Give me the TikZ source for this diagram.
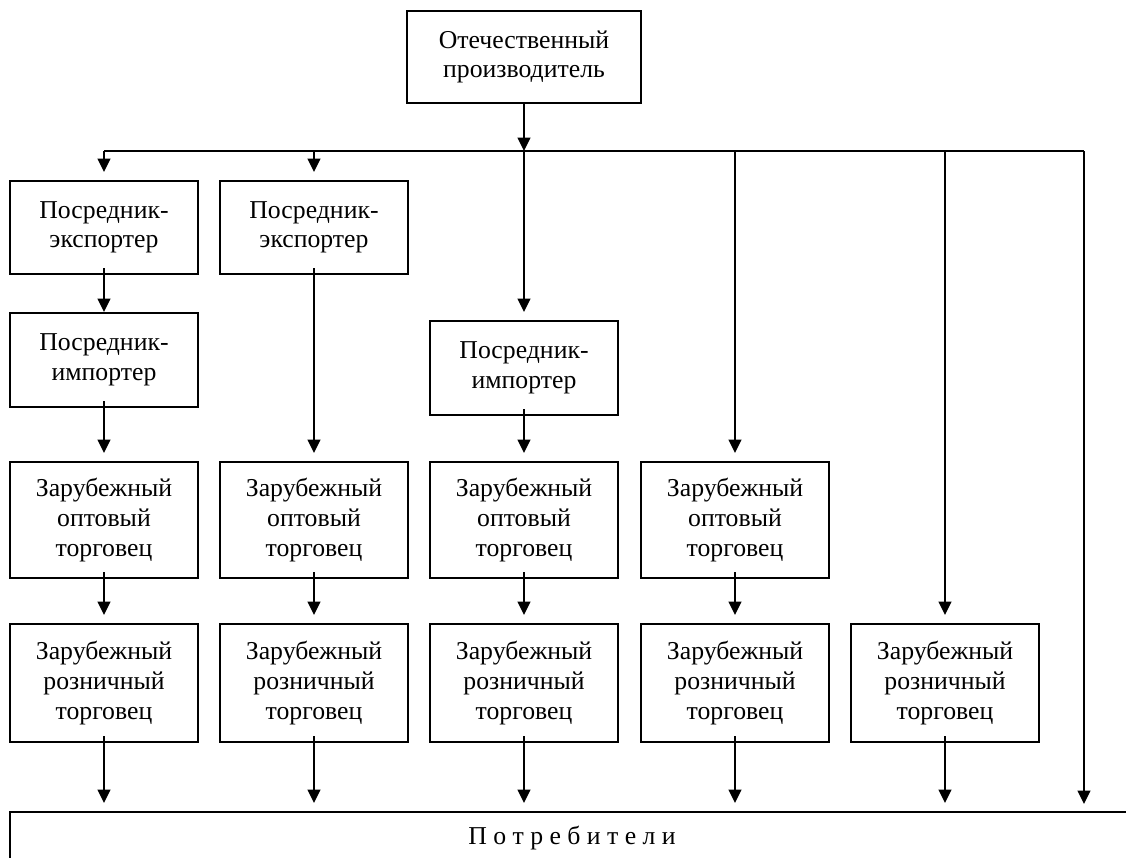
\documentclass[tikz,border=0pt]{standalone}
\usepackage{fontspec}
\setmainfont{Liberation Serif}
\usetikzlibrary{arrows.meta}
\begin{document}
\begin{tikzpicture}[x=0.75pt,y=-0.75pt,
  box/.style={draw, line width=1.5pt, inner sep=0pt, align=center,
    font=\fontsize{19.3}{22.2}\selectfont, minimum width=141pt},
  hexp/.style={minimum height=69.75pt},
  himp/.style={minimum height=70.5pt},
  hwho/.style={minimum height=87pt},
  hret/.style={minimum height=88.5pt},
  ln/.style={line width=1.5pt},
  arr/.style={line width=1.5pt, -{Triangle[length=10pt,width=9.5pt]}},
  gap/.style={shorten >=6pt},
  from/.style={shorten <=-5pt}]
\useasboundingbox (0,0) rectangle (1126,857);
\clip (0,0) rectangle (1126,857);

% top
\node[box, minimum width=175.5pt, minimum height=69pt] (top) at (524,57) {Отечественный\\производитель};

% bus
\coordinate (bus1) at (104,151);
\coordinate (bus2) at (314,151);
\coordinate (bus3) at (524,151);
\coordinate (bus4) at (735,151);
\coordinate (bus5) at (945,151);
\coordinate (busR) at (1084,151);
\coordinate (endR) at (1084,812);

% column 1
\node[box,hexp] (exp1) at (104,227.5) {Посредник-\\экспортер};
\node[box,himp] (imp1) at (104,360) {Посредник-\\импортер};
\node[box,hwho] (who1) at (104,520) {Зарубежный\\оптовый\\торговец};
\node[box,hret] (ret1) at (104,683) {Зарубежный\\розничный\\торговец};
% column 2
\node[box,hexp] (exp2) at (314,227.5) {Посредник-\\экспортер};
\node[box,hwho] (who2) at (314,520) {Зарубежный\\оптовый\\торговец};
\node[box,hret] (ret2) at (314,683) {Зарубежный\\розничный\\торговец};
% column 3
\node[box,himp] (imp3) at (524,368) {Посредник-\\импортер};
\node[box,hwho] (who3) at (524,520) {Зарубежный\\оптовый\\торговец};
\node[box,hret] (ret3) at (524,683) {Зарубежный\\розничный\\торговец};
% column 4
\node[box,hwho] (who4) at (735,520) {Зарубежный\\оптовый\\торговец};
\node[box,hret] (ret4) at (735,683) {Зарубежный\\розничный\\торговец};
% column 5
\node[box,hret] (ret5) at (945,683) {Зарубежный\\розничный\\торговец};

% consumers
\node[draw, line width=1.5pt, minimum width=843pt, minimum height=39pt, inner sep=0pt,
  font=\fontsize{19.3}{22.2}\selectfont] (cons) at (572,838) {П о т р е б и т е л и};

% connectors
\draw[ln] (bus1) -- (busR);
\draw[arr] (top.south) -- (bus3);
\draw[arr,gap] (bus1) -- (exp1.north);
\draw[arr,gap] (bus2) -- (exp2.north);
\draw[arr,gap] (bus3) -- (imp3.north);
\draw[arr,gap] (bus4) -- (who4.north);
\draw[arr,gap] (bus5) -- (ret5.north);
\draw[arr,gap] (busR) -- (endR);

\draw[arr,from] (exp1.south) -- (imp1.north);
\draw[arr,from,gap] (imp1.south) -- (who1.north);
\draw[arr,from,gap] (exp2.south) -- (who2.north);
\draw[arr,from,gap] (imp3.south) -- (who3.north);

\foreach \c in {1,2,3,4}{
  \draw[arr,from,gap] (who\c.south) -- (ret\c.north);
}
\foreach \c in {1,2,3,4,5}{
  \draw[arr,from,gap] (ret\c.south) -- (ret\c.south |- cons.north);
}
\end{tikzpicture}
\end{document}
